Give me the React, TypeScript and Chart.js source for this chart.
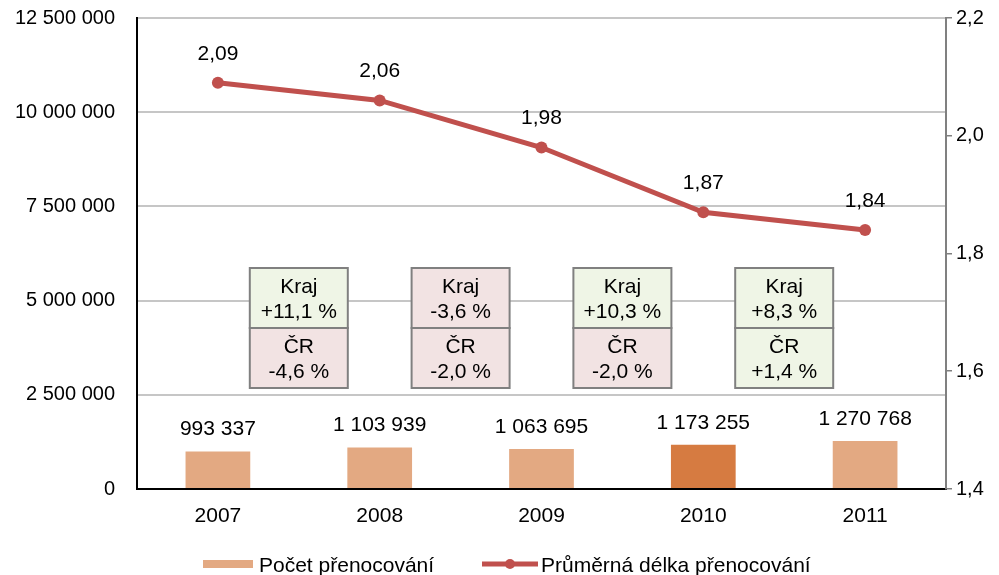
import React, { useEffect, useRef } from "react";
import { Chart, registerables } from "chart.js";

Chart.register(...registerables);

const years = ["2007", "2008", "2009", "2010", "2011"];
const stays = [993337, 1103939, 1063695, 1173255, 1270768];
const avgLength = [2.09, 2.06, 1.98, 1.87, 1.84];
const krajChange = [11.1, -3.6, 10.3, 8.3];
const crChange = [-4.6, -2.0, -2.0, 1.4];
const barLegend = "Počet přenocování";
const lineLegend = "Průměrná délka přenocování";

const FONT = "'Liberation Sans', Arial, sans-serif";
const BAR_COLOR = "#E3A982";
const BAR_HIGHLIGHT = "#D67B41";
const LINE_COLOR = "#C0504D";

const fmtThousands = (v: number) =>
  String(Math.round(v)).replace(/\B(?=(\d{3})+(?!\d))/g, " ");
const fmtComma = (v: number, d: number) => v.toFixed(d).replace(".", ",");
const fmtPct = (v: number) => (v > 0 ? "+" : "") + fmtComma(v, 1) + " %";

const overlayPlugin = {
  id: "overlay",
  afterDatasetsDraw(chart: any) {
    const ctx = chart.ctx;
    const xs = chart.scales.x;
    const y = chart.scales.y;
    const y1 = chart.scales.y1;
    ctx.save();
    ctx.fillStyle = "#000";
    ctx.textAlign = "center";
    ctx.textBaseline = "middle";
    ctx.font = `21px ${FONT}`;
    // bar values
    stays.forEach((v, i) => {
      const px = xs.getPixelForValue(i);
      const py = y.getPixelForValue(v);
      ctx.fillText(fmtThousands(v), px, py - 22);
    });
    // line values
    avgLength.forEach((v, i) => {
      const px = xs.getPixelForValue(i);
      const py = y1.getPixelForValue(v);
      ctx.fillText(fmtComma(v, 2), px, py - 29);
    });
    // change boxes
    const area = chart.chartArea;
    const top = area.top + 250;
    const h = 60;
    const w = 98;
    ctx.font = `21px ${FONT}`;
    krajChange.forEach((k, i) => {
      const cx = (xs.getPixelForValue(i) + xs.getPixelForValue(i + 1)) / 2;
      const c = crChange[i];
      const x0 = cx - w / 2;
      ctx.fillStyle = k >= 0 ? "#EFF5E6" : "#F2E3E3";
      ctx.fillRect(x0, top, w, h);
      ctx.fillStyle = c >= 0 ? "#EFF5E6" : "#F2E3E3";
      ctx.fillRect(x0, top + h, w, h);
      ctx.strokeStyle = "#808080";
      ctx.lineWidth = 2;
      ctx.strokeRect(x0, top, w, h);
      ctx.strokeRect(x0, top + h, w, h);
      ctx.fillStyle = "#000";
      ctx.fillText("Kraj", cx, top + 19);
      ctx.fillText(fmtPct(k), cx, top + 44);
      ctx.fillText("ČR", cx, top + h + 19);
      ctx.fillText(fmtPct(c), cx, top + h + 44);
    });
    ctx.restore();
  },
  afterDraw(chart: any) {
    const ctx = chart.ctx;
    ctx.save();
    ctx.font = `21px ${FONT}`;
    ctx.textBaseline = "alphabetic";
    ctx.textAlign = "left";
    const yMid = 564;
    // bar item
    ctx.fillStyle = BAR_COLOR;
    ctx.fillRect(203, yMid - 4, 50, 8);
    ctx.fillStyle = "#000";
    ctx.fillText(barLegend, 259, 572);
    // line item
    ctx.strokeStyle = LINE_COLOR;
    ctx.lineWidth = 5;
    ctx.beginPath();
    ctx.moveTo(482, yMid);
    ctx.lineTo(538, yMid);
    ctx.stroke();
    ctx.fillStyle = LINE_COLOR;
    ctx.beginPath();
    ctx.arc(510, yMid, 5, 0, Math.PI * 2);
    ctx.fill();
    ctx.fillStyle = "#000";
    ctx.fillText(lineLegend, 541, 572);
    ctx.restore();
  },
};

const fitV = (w: number) => (s: any) => {
  s.width = w;
  s.paddingTop = 0;
  s.paddingBottom = 0;
};

export default function App() {
  const ref = useRef<HTMLCanvasElement | null>(null);
  useEffect(() => {
    if (!ref.current) return;
    Chart.defaults.font.family = FONT;
    const chart = new Chart(ref.current, {
      type: "bar",
      data: {
        labels: years,
        datasets: [
          {
            type: "line",
            label: lineLegend,
            data: avgLength,
            yAxisID: "y1",
            borderColor: LINE_COLOR,
            backgroundColor: LINE_COLOR,
            borderWidth: 5,
            pointRadius: 6,
            pointBackgroundColor: LINE_COLOR,
            pointBorderWidth: 0,
            tension: 0,
            order: 0,
          } as any,
          {
            type: "bar",
            label: barLegend,
            data: stays,
            yAxisID: "y",
            backgroundColor: stays.map((_, i) => (i === 3 ? BAR_HIGHLIGHT : BAR_COLOR)),
            borderWidth: 0,
            barPercentage: 0.4,
            categoryPercentage: 1,
            order: 1,
          },
        ],
      },
      options: {
        animation: false,
        responsive: false,
        devicePixelRatio: 1,
        layout: { padding: { top: 18, bottom: 0, left: 0, right: 0 } },
        plugins: {
          legend: { display: false },
          tooltip: { enabled: false },
          title: { display: false },
        },
        scales: {
          x: {
            offset: true,
            grid: { display: false, drawTicks: false },
            border: { color: "#000", width: 2 },
            ticks: { color: "#000", font: { size: 21 }, padding: 15 },
            afterFit: (s: any) => {
              s.height = 86;
              s.paddingLeft = 0;
              s.paddingRight = 0;
            },
          },
          y: {
            position: "left",
            min: 0,
            max: 12500000,
            grid: { color: "#C6C6C6", lineWidth: 2, drawTicks: false },
            border: { color: "#000", width: 2 },
            ticks: {
              stepSize: 2500000,
              color: "#000",
              font: { size: 20 },
              padding: 22,
              callback: (v: any) => fmtThousands(Number(v)),
            },
            afterFit: fitV(137),
          },
          y1: {
            position: "right",
            min: 1.4,
            max: 2.2,
            grid: {
              drawOnChartArea: false,
              drawTicks: true,
              tickLength: 6,
              color: "#808080",
              lineWidth: 1.5,
            },
            border: { color: "#808080", width: 2 },
            ticks: {
              stepSize: 0.2,
              color: "#000",
              font: { size: 20 },
              padding: 4,
              callback: (v: any) => fmtComma(Number(v), 1),
            },
            afterFit: fitV(53),
          },
        },
      },
      plugins: [overlayPlugin],
    });
    return () => chart.destroy();
  }, []);
  return (
    <div style={{ position: "absolute", left: 0, top: 0, width: 999, height: 575, background: "#fff" }}>
      <canvas ref={ref} width={999} height={575} style={{ display: "block" }} />
    </div>
  );
}
